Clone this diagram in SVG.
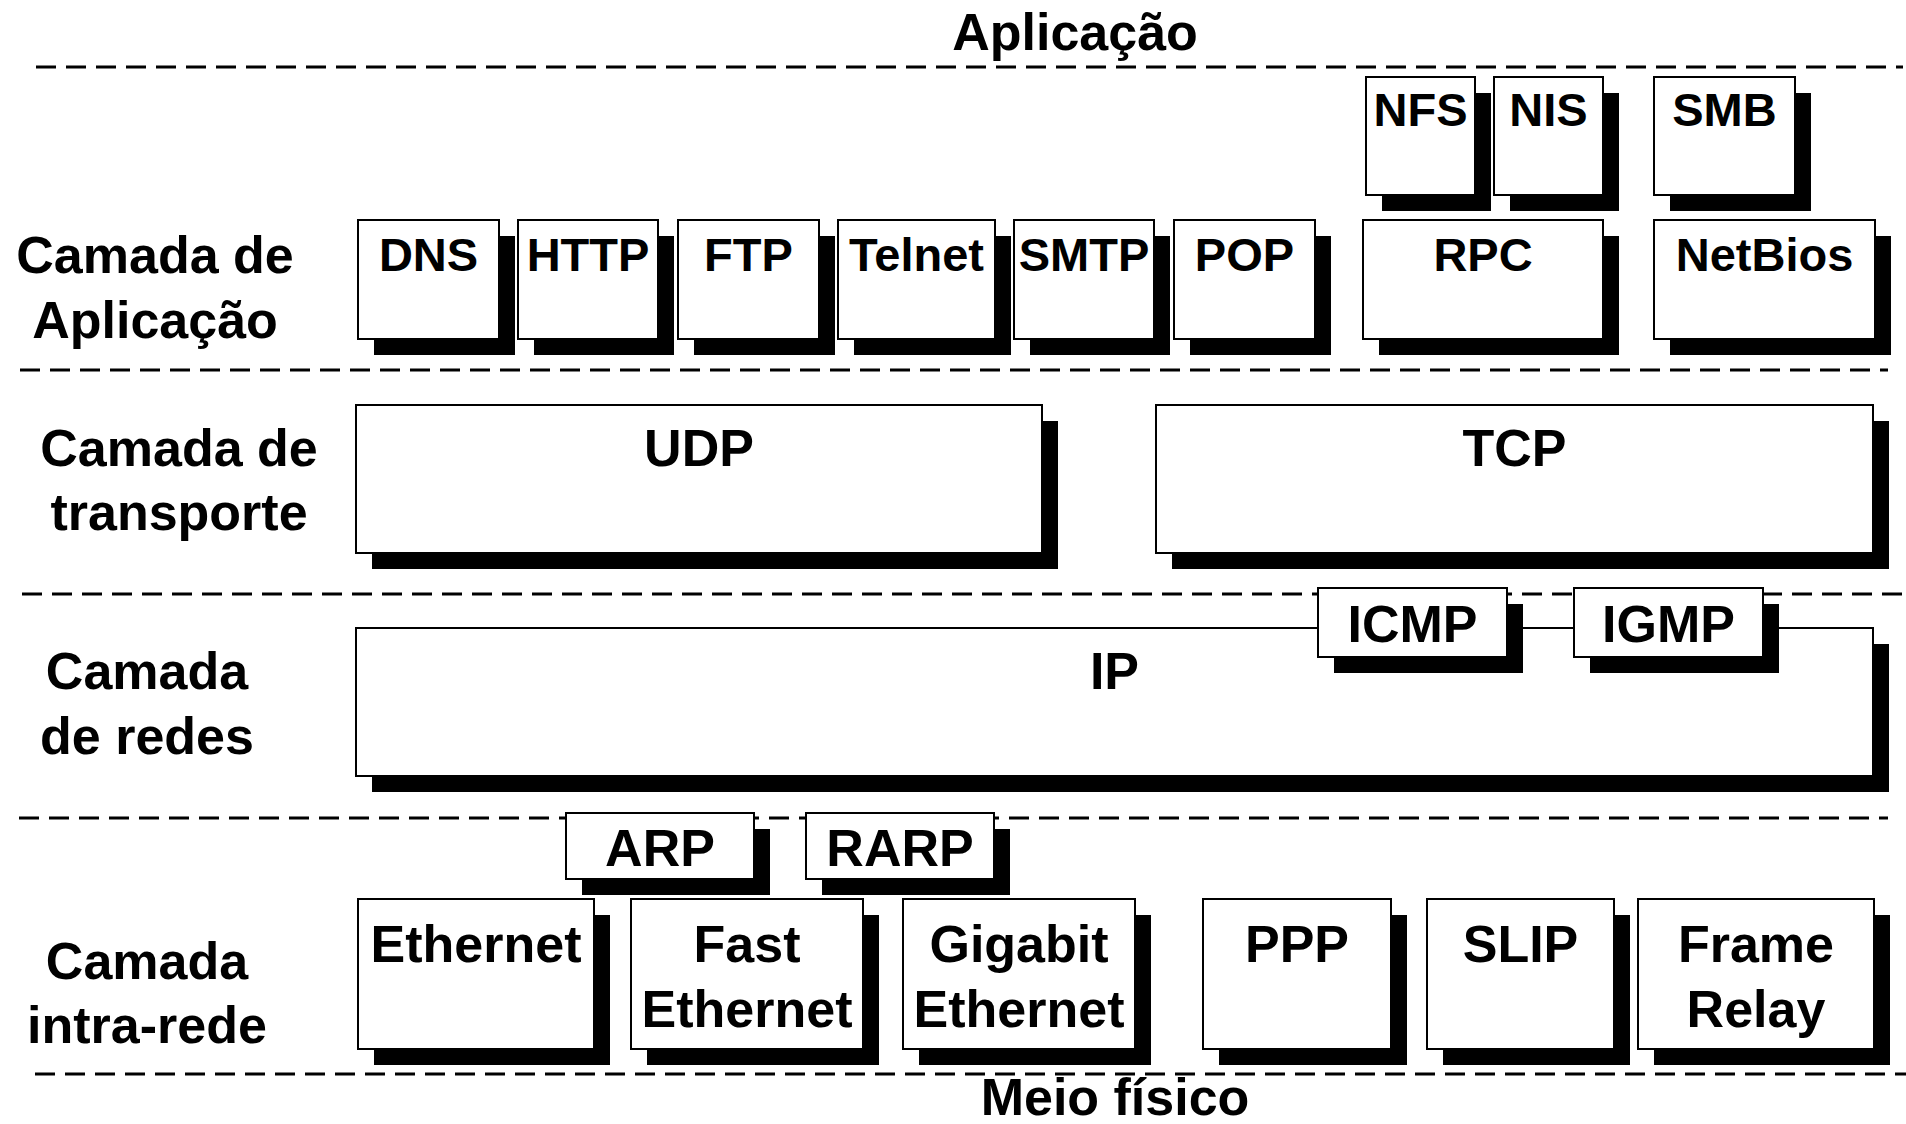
<svg xmlns="http://www.w3.org/2000/svg" width="1906" height="1124" viewBox="0 0 1906 1124">
<style>
  text { font-family: "Liberation Sans", Arial, sans-serif; font-weight: bold; fill: #000; text-anchor: middle; }
  .lbl { font-size: 52px; }
  .sm { font-size: 47px; }
  .div { stroke: #000; stroke-width: 3; stroke-dasharray: 20 10; fill: none; }
  .sh { fill: #000; }
  .bx { fill: #fff; stroke: #000; stroke-width: 2; }
</style>
<rect x="0" y="0" width="1906" height="1124" fill="#fff"/>

<g id="layer-dividers">
  <line class="div" x1="36" y1="67" x2="1903" y2="67"/>
  <line class="div" x1="20" y1="370" x2="1888" y2="370"/>
  <line class="div" x1="22" y1="594" x2="1903" y2="594"/>
  <line class="div" x1="19" y1="818" x2="1888" y2="818"/>
  <line class="div" x1="35" y1="1074" x2="1906" y2="1074"/>
</g>

<g id="titles">
  <text class="lbl" x="1075" y="50">Aplicação</text>
  <text class="lbl" x="1115" y="1115">Meio físico</text>
</g>

<g id="layer-labels">
  <text class="lbl" x="155" y="273">Camada de</text>
  <text class="lbl" x="155" y="338">Aplicação</text>
  <text class="lbl" x="179" y="466">Camada de</text>
  <text class="lbl" x="179" y="530">transporte</text>
  <text class="lbl" x="147" y="689">Camada</text>
  <text class="lbl" x="147" y="754">de redes</text>
  <text class="lbl" x="147" y="979">Camada</text>
  <text class="lbl" x="147" y="1043">intra-rede</text>
</g>

<!-- Application layer -->
<g id="dns"><rect class="sh" x="374" y="236" width="141" height="119"/><rect class="bx" x="358" y="220" width="141" height="119"/><text class="sm" x="428.5" y="271">DNS</text></g>
<g id="http"><rect class="sh" x="534" y="236" width="140" height="119"/><rect class="bx" x="518" y="220" width="140" height="119"/><text class="sm" x="588" y="271">HTTP</text></g>
<g id="ftp"><rect class="sh" x="694" y="236" width="141" height="119"/><rect class="bx" x="678" y="220" width="141" height="119"/><text class="sm" x="748.5" y="271">FTP</text></g>
<g id="telnet"><rect class="sh" x="854" y="236" width="157" height="119"/><rect class="bx" x="838" y="220" width="157" height="119"/><text class="sm" x="916.5" y="271">Telnet</text></g>
<g id="smtp"><rect class="sh" x="1030" y="236" width="140" height="119"/><rect class="bx" x="1014" y="220" width="140" height="119"/><text class="sm" x="1084" y="271">SMTP</text></g>
<g id="pop"><rect class="sh" x="1190" y="236" width="141" height="119"/><rect class="bx" x="1174" y="220" width="141" height="119"/><text class="sm" x="1244.5" y="271">POP</text></g>
<g id="rpc"><rect class="sh" x="1379" y="236" width="240" height="119"/><rect class="bx" x="1363" y="220" width="240" height="119"/><text class="sm" x="1483" y="271">RPC</text></g>
<g id="netbios"><rect class="sh" x="1670" y="236" width="221" height="119"/><rect class="bx" x="1654" y="220" width="221" height="119"/><text class="sm" x="1764.5" y="271">NetBios</text></g>
<g id="nfs"><rect class="sh" x="1382" y="93" width="109" height="118"/><rect class="bx" x="1366" y="77" width="109" height="118"/><text class="sm" x="1420.5" y="126">NFS</text></g>
<g id="nis"><rect class="sh" x="1510" y="93" width="109" height="118"/><rect class="bx" x="1494" y="77" width="109" height="118"/><text class="sm" x="1548.5" y="126">NIS</text></g>
<g id="smb"><rect class="sh" x="1670" y="93" width="141" height="118"/><rect class="bx" x="1654" y="77" width="141" height="118"/><text class="sm" x="1724.5" y="126">SMB</text></g>

<!-- Transport layer -->
<g id="udp"><rect class="sh" x="372" y="421" width="686" height="148"/><rect class="bx" x="356" y="405" width="686" height="148"/><text class="lbl" x="699" y="466">UDP</text></g>
<g id="tcp"><rect class="sh" x="1172" y="421" width="717" height="148"/><rect class="bx" x="1156" y="405" width="717" height="148"/><text class="lbl" x="1514.5" y="466">TCP</text></g>

<!-- Network layer -->
<g id="ip"><rect class="sh" x="372" y="644" width="1517" height="148"/><rect class="bx" x="356" y="628" width="1517" height="148"/><text class="lbl" x="1114.5" y="689">IP</text></g>
<g id="icmp"><rect class="sh" x="1334" y="604" width="189" height="69"/><rect class="bx" x="1318" y="588" width="189" height="69"/><text class="lbl" x="1412.5" y="642">ICMP</text></g>
<g id="igmp"><rect class="sh" x="1590" y="604" width="189" height="69"/><rect class="bx" x="1574" y="588" width="189" height="69"/><text class="lbl" x="1668.5" y="642">IGMP</text></g>

<!-- Link layer -->
<g id="arp"><rect class="sh" x="582" y="829" width="188" height="66"/><rect class="bx" x="566" y="813" width="188" height="66"/><text class="lbl" x="660" y="866">ARP</text></g>
<g id="rarp"><rect class="sh" x="822" y="829" width="188" height="66"/><rect class="bx" x="806" y="813" width="188" height="66"/><text class="lbl" x="900" y="866">RARP</text></g>
<g id="ethernet"><rect class="sh" x="374" y="915" width="236" height="150"/><rect class="bx" x="358" y="899" width="236" height="150"/><text class="lbl" x="476" y="962">Ethernet</text></g>
<g id="fast-ethernet"><rect class="sh" x="647" y="915" width="232" height="150"/><rect class="bx" x="631" y="899" width="232" height="150"/><text class="lbl" x="747" y="962">Fast</text><text class="lbl" x="747" y="1027">Ethernet</text></g>
<g id="gigabit-ethernet"><rect class="sh" x="919" y="915" width="232" height="150"/><rect class="bx" x="903" y="899" width="232" height="150"/><text class="lbl" x="1019" y="962">Gigabit</text><text class="lbl" x="1019" y="1027">Ethernet</text></g>
<g id="ppp"><rect class="sh" x="1219" y="915" width="188" height="150"/><rect class="bx" x="1203" y="899" width="188" height="150"/><text class="lbl" x="1297" y="962">PPP</text></g>
<g id="slip"><rect class="sh" x="1443" y="915" width="187" height="150"/><rect class="bx" x="1427" y="899" width="187" height="150"/><text class="lbl" x="1520.5" y="962">SLIP</text></g>
<g id="frame-relay"><rect class="sh" x="1654" y="915" width="236" height="150"/><rect class="bx" x="1638" y="899" width="236" height="150"/><text class="lbl" x="1756" y="962">Frame</text><text class="lbl" x="1756" y="1027">Relay</text></g>
</svg>
